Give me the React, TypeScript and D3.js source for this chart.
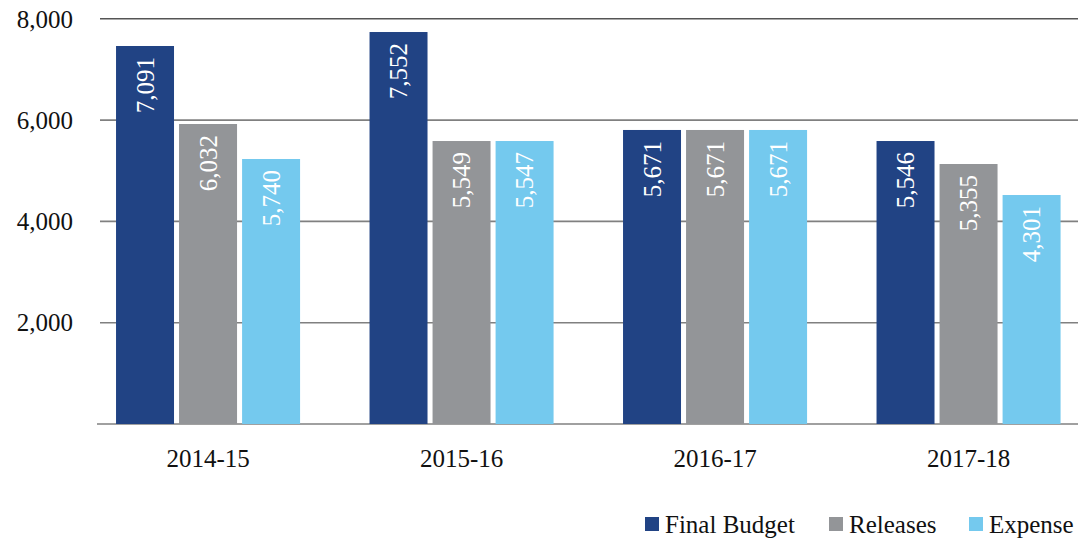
import React from "react";
import * as d3 from "d3";

const categories = ["2014-15", "2015-16", "2016-17", "2017-18"];
const seriesNames = ["Final Budget", "Releases", "Expense"];
// bar heights as drawn in the picture
const finalBudget = [7463, 7739, 5805, 5587];
const releases = [5923, 5587, 5805, 5133];
const expense = [5232, 5587, 5805, 4521];
// value labels printed on the bars
const finalBudgetLabels = ["7,091", "7,552", "5,671", "5,546"];
const releasesLabels = ["6,032", "5,549", "5,671", "5,355"];
const expenseLabels = ["5,740", "5,547", "5,671", "4,301"];
const yTicks = [2000, 4000, 6000, 8000];

const colors = ["#214384", "#939598", "#74C9EE"];
const W = 1081;
const H = 540;
const FONT = "'Liberation Serif', 'Times New Roman', serif";

export default function App() {
  const values = [finalBudget, releases, expense];
  const labels = [finalBudgetLabels, releasesLabels, expenseLabels];

  const y = d3.scaleLinear().domain([0, 8000]).range([424, 18.8]);
  const x0 = d3
    .scaleBand<string>()
    .domain(categories)
    .range([81.3, 1095.3])
    .paddingInner(0.274)
    .paddingOuter(0.137);
  const x1 = d3
    .scaleBand<string>()
    .domain(seriesNames)
    .range([0, x0.bandwidth()])
    .paddingInner(0.08);

  const legendX = [645, 829, 969];

  return (
    <svg
      width={W}
      height={H}
      style={{ position: "absolute", left: 0, top: 0, background: "#fff" }}
      fontFamily={FONT}
    >
      {/* gridlines */}
      {yTicks.map((t) => (
        <line
          key={t}
          x1={100}
          x2={1078}
          y1={y(t)}
          y2={y(t)}
          stroke={t === 8000 ? "#555" : "#808080"}
          strokeWidth={1.6}
        />
      ))}
      <line x1={97} x2={1078} y1={y(0)} y2={y(0)} stroke="#808080" strokeWidth={1.6} />
      {/* tick labels */}
      {yTicks.map((t) => (
        <text
          key={"l" + t}
          x={73}
          y={y(t)}
          dy="0.35em"
          textAnchor="end"
          fontSize={25}
          fill="#111"
        >
          {d3.format(",")(t)}
        </text>
      ))}
      {/* bars */}
      {categories.map((c, ci) => (
        <g key={c} transform={`translate(${x0(c)},0)`}>
          {seriesNames.map((s, si) => {
            const v = values[si][ci];
            const bx = x1(s)!;
            const bw = x1.bandwidth();
            return (
              <g key={s}>
                <rect x={bx} y={y(v)} width={bw} height={y(0) - y(v)} fill={colors[si]} />
                <text
                  transform={`translate(${bx + bw / 2},${y(v) + 11}) rotate(-90)`}
                  dy="0.35em"
                  textAnchor="end"
                  fontSize={25}
                  fill="#fff"
                >
                  {labels[si][ci]}
                </text>
              </g>
            );
          })}
        </g>
      ))}
      {/* category labels */}
      {categories.map((c) => (
        <text
          key={"c" + c}
          x={x0(c)! + x0.bandwidth() / 2}
          y={467}
          textAnchor="middle"
          fontSize={25}
          fill="#111"
        >
          {c}
        </text>
      ))}
      {/* legend */}
      {seriesNames.map((s, i) => (
        <g key={"lg" + s} transform={`translate(${legendX[i]},0)`}>
          <rect x={0} y={517} width={14} height={14} fill={colors[i]} />
          <text x={20} y={533} fontSize={25} fill="#111">
            {s}
          </text>
        </g>
      ))}
    </svg>
  );
}
